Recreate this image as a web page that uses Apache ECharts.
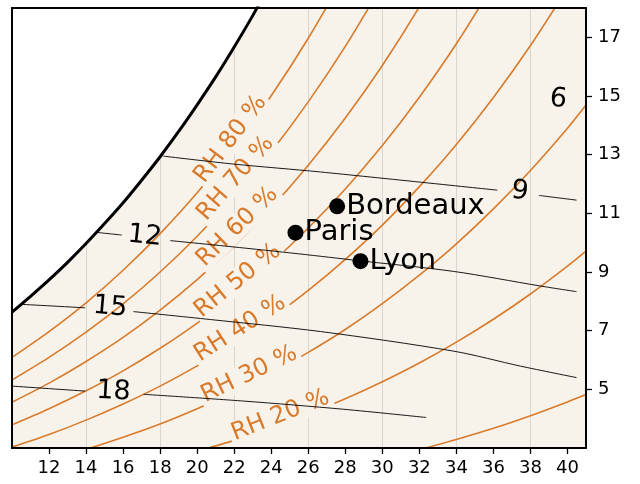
<!DOCTYPE html>
<html><head><meta charset="utf-8">
<script src="https://cdn.jsdelivr.net/npm/echarts@6/dist/echarts.min.js"></script>
<style>html,body{margin:0;padding:0;background:#fff}#c{width:640px;height:484px}</style>
</head><body><div id="c"></div>
<script>
// ---- axis ticks ----
const xTicks = [12,14,16,18,20,22,24,26,28,30,32,34,36,38,40];
const yTicks = [5,7,9,11,13,15,17];

// ---- saturation curve (RH 100 %) : [temperature °C, g/kg] ----
const satCurve = [[10,7.63],[11,8.17],[12,8.73],[13,9.33],[14,9.97],[15,10.65],[16,11.36],[17,12.13],[18,12.93],[19,13.79],[20,14.70],[21,15.65],[22,16.67],[23,17.74],[24,18.88]];

// ---- relative humidity curves ----
const rh80 = [[10,6.09],[12,6.97],[14,7.95],[16,9.06],[18,10.31],[20,11.70],[22,13.27],[24,15.01],[26,16.97],[28,19.15]];
const rh70 = [[10,5.32],[12,6.09],[14,6.95],[16,7.91],[18,9.00],[20,10.22],[22,11.58],[24,13.10],[26,14.80],[28,16.69],[30,18.80]];
const rh60 = [[10,4.56],[12,5.21],[14,5.95],[16,6.77],[18,7.70],[20,8.74],[22,9.90],[24,11.19],[26,12.64],[28,14.25],[30,16.04],[32,18.04],[34,20.25]];
const rh50 = [[10,3.79],[12,4.34],[14,4.95],[16,5.63],[18,6.40],[20,7.26],[22,8.23],[24,9.30],[26,10.50],[28,11.83],[30,13.31],[32,14.96],[34,16.78],[36,18.81]];
const rh40 = [[10,3.03],[12,3.46],[14,3.95],[16,4.50],[18,5.11],[20,5.80],[22,6.56],[24,7.42],[26,8.37],[28,9.43],[30,10.60],[32,11.91],[34,13.35],[36,14.95],[38,16.72],[40,18.68]];
const rh30 = [[12,2.60],[14,2.96],[16,3.37],[18,3.82],[20,4.34],[22,4.91],[24,5.55],[26,6.26],[28,7.04],[30,7.92],[32,8.89],[34,9.96],[36,11.15],[38,12.46],[40,13.90],[41,14.69]];
const rh20 = [[20,2.89],[22,3.26],[24,3.69],[26,4.16],[28,4.68],[30,5.26],[32,5.90],[34,6.61],[36,7.39],[38,8.25],[40,9.20],[41,9.71]];
const rh10 = [[32,2.94],[34,3.29],[36,3.67],[38,4.10],[40,4.57],[41,4.82]];

// ---- RH labels ----
const rhLabelText = ['RH 80 %','RH 70 %','RH 60 %','RH 50 %','RH 40 %','RH 30 %','RH 20 %'];
const rhLabelPos = [[21.81,13.53],[22.07,12.19],[22.17,10.54],[22.19,8.70],[22.32,7.07],[22.81,5.51],[24.5,4.11]];
const rhLabelRot = [52.7,48.8,44.3,38.9,32.7,25.6,21.5];

// ---- thin labelled lines (segments on each side of the label) ----
const line9a  = [[18.18,12.95],[21.95,12.68],[26.66,12.41],[36.21,11.79]];
const line9b  = [[38.46,11.61],[40.49,11.45]];
const line12a = [[14.58,10.35],[15.93,10.26]];
const line12b = [[18.55,10.07],[21.88,9.86],[25.48,9.62],[28.82,9.38],[33.85,9.02],[38.56,8.52],[40.49,8.33]];
const line15a = [[10.45,7.90],[13.95,7.78]];
const line15b = [[16.56,7.65],[20.71,7.38],[26.66,6.97],[33.87,6.30],[37.47,5.79],[40.49,5.40]];
const line18a = [[10,5.11],[13.95,4.94]];
const line18b = [[17.10,4.83],[22.51,4.60],[27.92,4.32],[32.37,4.04]];

const numLabelText = ['6','9','12','15','18'];
const numLabelPos = [[39.50,14.88],[37.43,11.74],[17.17,10.22],[15.30,7.80],[15.48,4.92]];
const numLabelRot = [-6,-7,-6,-5,-3];

// ---- cities ----
const cityNames = ['Bordeaux','Paris','Lyon'];
const cityT = [27.56,25.31,28.82];
const cityW = [11.24,10.34,9.37];

const ORANGE = '#d97a2b';
const BEIGE = '#f7f3eb';
const FONT = 'DejaVu Sans';

function curve(data, color, width, z) {
  return {type:'line', data:data, symbol:'none', showSymbol:false, smooth:0.3, clip:true,
    lineStyle:{color:color, width:width}, z:z, silent:true, xAxisIndex:0, yAxisIndex:0};
}

const series = [];
series.push({type:'line', data:satCurve, symbol:'none', showSymbol:false, smooth:0.3, clip:true,
  lineStyle:{color:'#000', width:3}, areaStyle:{color:'#ffffff', opacity:1, origin:'end'}, z:6, silent:true});
[rh80,rh70,rh60,rh50,rh40,rh30,rh20,rh10].forEach(d => series.push(curve(d, ORANGE, 1.6, 3)));
[line9a,line9b,line12a,line12b,line15a,line15b,line18a,line18b].forEach(d => series.push(curve(d, '#000', 0.9, 5)));

series.push({type:'scatter', symbolSize:0, silent:true, z:4, itemStyle:{opacity:1},
  data: rhLabelPos.map((p,i) => ({value:p, label:{rotate:rhLabelRot[i], formatter:rhLabelText[i]}})),
  label:{show:true, position:'inside', color:ORANGE, opacity:1, fontSize:24, fontFamily:FONT, backgroundColor:BEIGE, padding:[0,3], align:'center', verticalAlign:'middle'}});

series.push({type:'scatter', symbolSize:0, silent:true, z:5, itemStyle:{opacity:1},
  data: numLabelPos.map((p,i) => ({value:p, label:{rotate:numLabelRot[i], formatter:numLabelText[i]}})),
  label:{show:true, position:'inside', color:'#000', opacity:1, fontSize:27, fontFamily:FONT, align:'center', verticalAlign:'middle'}});

series.push({type:'scatter', symbolSize:16, silent:true, z:7, itemStyle:{color:'#000', opacity:1},
  data: cityNames.map((n,i) => ({value:[cityT[i], cityW[i]], name:n})),
  label:{show:true, position:'right', distance:1, formatter:'{b}', color:'#000', opacity:1, fontSize:29, fontFamily:FONT}});

const chart = echarts.init(document.getElementById('c'), null, {renderer:'canvas'});
chart.setOption({
  animation:false,
  backgroundColor:'#ffffff',
  grid:{left:12, right:54, top:8, bottom:36, show:true, backgroundColor:BEIGE, borderWidth:0, containLabel:false, outerBoundsMode:'none'},
  xAxis:[
    {type:'value', position:'bottom', min:10, max:41, interval:2, z:10,
      axisLine:{show:true, onZero:false, lineStyle:{color:'#000', width:2}},
      axisTick:{show:true, customValues:xTicks, length:6, lineStyle:{color:'#000', width:1.3}},
      axisLabel:{show:true, customValues:xTicks, color:'#000', fontSize:18, fontFamily:FONT, margin:11},
      splitLine:{show:false}},
    {type:'value', position:'top', min:10, max:41, interval:2, z:10,
      axisLine:{show:true, onZero:false, lineStyle:{color:'#000', width:2}},
      axisTick:{show:false}, axisLabel:{show:false}, splitLine:{show:false}},
    {type:'value', position:'top', min:10, max:41, interval:4, z:0,
      axisLine:{show:false}, axisTick:{show:false}, axisLabel:{show:false},
      splitLine:{show:true, lineStyle:{color:'#d9d6d0', width:1}}}
  ],
  yAxis:[
    {type:'value', position:'right', min:3, max:18, interval:1, z:10,
      axisLine:{show:true, onZero:false, lineStyle:{color:'#000', width:2}},
      axisTick:{show:true, customValues:yTicks, length:6, lineStyle:{color:'#000', width:1.3}},
      axisLabel:{show:true, customValues:yTicks, color:'#000', fontSize:18, fontFamily:FONT, margin:12},
      splitLine:{show:false}},
    {type:'value', position:'left', min:3, max:18, interval:1, z:10,
      axisLine:{show:true, onZero:false, lineStyle:{color:'#000', width:2}},
      axisTick:{show:false}, axisLabel:{show:false}, splitLine:{show:false}}
  ],
  series:series
});
</script>
</body></html>
